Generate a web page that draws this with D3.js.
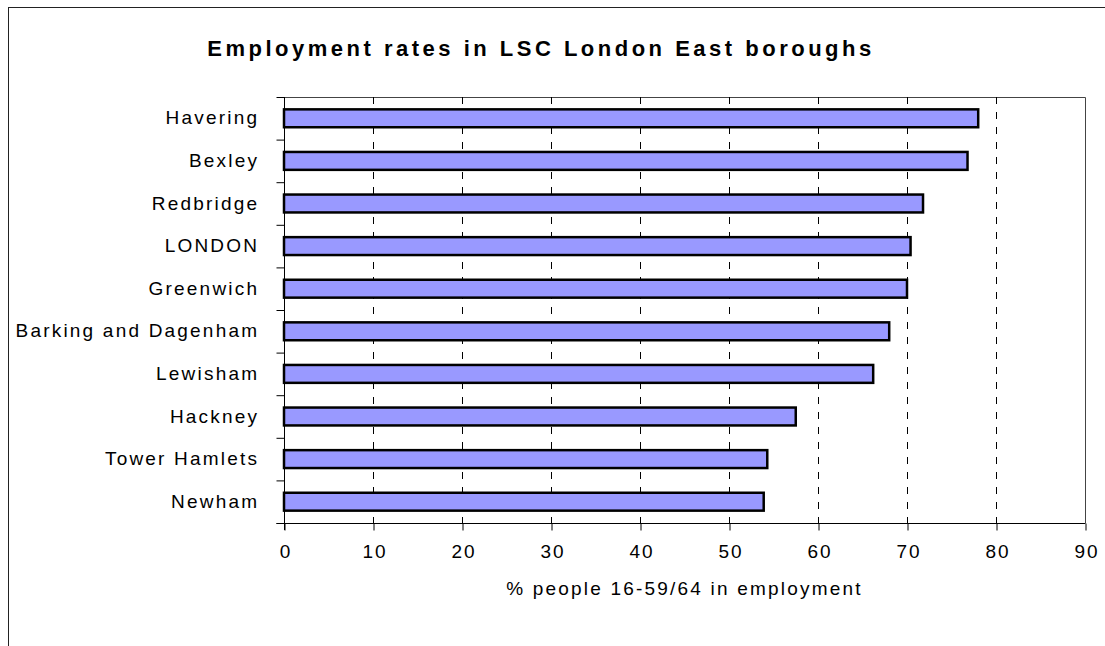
<!DOCTYPE html>
<html>
<head>
<meta charset="utf-8">
<script src="https://cdn.jsdelivr.net/npm/d3@7"></script>
<style>
  body { margin: 0; background: #fff; }
  text { font-family: "Liberation Sans", Arial, sans-serif; fill: #000; }
</style>
</head>
<body>
<div id="container"></div>
<script>
/***** data *****/
const boroughs = ["Havering", "Bexley", "Redbridge", "LONDON", "Greenwich",
  "Barking and Dagenham", "Lewisham", "Hackney", "Tower Hamlets", "Newham"];
const rates = [78.0, 76.8, 71.8, 70.4, 70.0, 68.0, 66.2, 57.5, 54.3, 53.9];
const xTicks = [0, 10, 20, 30, 40, 50, 60, 70, 80, 90];
const chartTitle = "Employment rates in LSC London East boroughs";
const xTitle = "% people 16-59/64 in employment";

const data = boroughs.map((b, i) => ({name: b, value: rates[i]}));

/***** chart *****/
const W = 1105, H = 646;
const pLeft = 284, pRight = 1085, pTop = 97, pBottom = 523;

const svg = d3.select("#container")
  .append("svg")
    .attr("width", W)
    .attr("height", H);

// outer frame
svg.append("rect")
  .attr("x", 8.5).attr("y", 7.5)
  .attr("width", 1200).attr("height", 800)
  .attr("fill", "none")
  .attr("stroke", "#222")
  .attr("stroke-width", 1);

// title
svg.append("text")
  .attr("x", 541)
  .attr("y", 56)
  .attr("text-anchor", "middle")
  .style("font-size", "22px")
  .style("font-weight", "bold")
  .style("letter-spacing", "3.5px")
  .text(chartTitle);

// scales
const x = d3.scaleLinear().domain([0, 90]).range([pLeft, pRight]);
const y = d3.scaleBand().domain(boroughs).range([pTop, pBottom]).paddingInner(0.58).paddingOuter(0.29);
const yEdge = d3.scaleLinear().domain([0, boroughs.length]).range([pTop, pBottom]);

// plot box (top & right)
svg.append("path")
  .attr("d", `M${pLeft},${pTop + 0.5}H${pRight + 0.5}V${pBottom}`)
  .attr("fill", "none")
  .attr("stroke", "#444")
  .attr("stroke-width", 1);

// dashed gridlines
svg.append("g")
  .selectAll("line")
  .data(xTicks.filter(t => t > 0 && t < 90))
  .join("line")
    .attr("x1", d => Math.round(x(d)) + 0.5)
    .attr("x2", d => Math.round(x(d)) + 0.5)
    .attr("y1", pTop)
    .attr("y2", pBottom)
    .attr("stroke", "#000")
    .attr("stroke-dasharray", "7,8");

// bars
svg.append("g")
  .selectAll("rect")
  .data(data)
  .join("rect")
    .attr("x", x(0))
    .attr("y", d => y(d.name))
    .attr("width", d => x(d.value) - x(0))
    .attr("height", y.bandwidth())
    .attr("fill", "#9999ff")
    .attr("stroke", "#000")
    .attr("stroke-width", 2.5);

// x axis
const xAxis = svg.append("g")
  .attr("transform", `translate(0.5,${pBottom + 0.5})`)
  .call(d3.axisBottom(x).tickValues(xTicks).tickSize(7).tickPadding(14).tickSizeOuter(0));
xAxis.select(".domain").attr("d", `M${pLeft - 8},0H${pRight}`).attr("stroke", "#000");
xAxis.selectAll("text")
  .style("font-size", "19px")
  .style("font-family", "Liberation Sans, Arial, sans-serif")
  .style("letter-spacing", "2px")
  .attr("dx", "1px");

// y axis boundary ticks
const yAxis = svg.append("g")
  .attr("transform", `translate(${pLeft + 0.5},0)`)
  .call(d3.axisLeft(yEdge).tickValues(d3.range(boroughs.length + 1)).tickSize(8).tickFormat("").tickSizeOuter(0));
yAxis.select(".domain").attr("d", `M0,${pTop}V${pBottom + 7}`).attr("stroke", "#000");

// category labels
svg.append("g")
  .attr("transform", `translate(${pLeft},0)`)
  .call(d3.axisLeft(y).tickSize(0).tickPadding(27))
  .call(g => g.select(".domain").remove())
  .selectAll("text")
    .style("font-size", "19px")
    .style("font-family", "Liberation Sans, Arial, sans-serif")
    .style("letter-spacing", "2.2px")
    .attr("dx", "2.2px");

// x title
svg.append("text")
  .attr("x", (pLeft + pRight) / 2)
  .attr("y", 595)
  .attr("text-anchor", "middle")
  .style("font-size", "19px")
  .style("letter-spacing", "2.2px")
  .text(xTitle);
</script>
</body>
</html>
